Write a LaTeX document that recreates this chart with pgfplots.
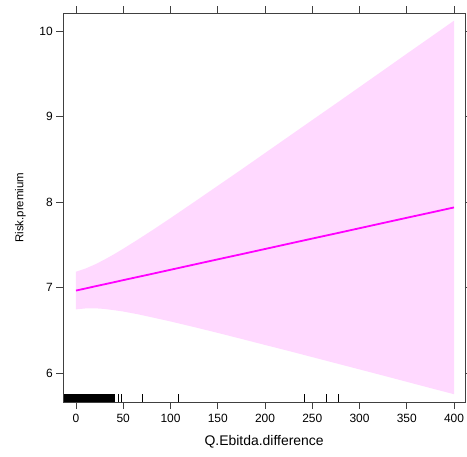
\documentclass[border=0pt]{standalone}
\usepackage{fontspec}
\setmainfont{Liberation Sans}
\usepackage{pgfplots}
\pgfplotsset{compat=1.18}
\usepgfplotslibrary{fillbetween}
\usepackage{pgfplotstable}
\definecolor{bandpink}{RGB}{255,217,255}
\definecolor{fitmag}{RGB}{255,0,255}
\definecolor{axgray}{RGB}{64,64,64}
\pgfplotstableread{
x upper lower fit
0   7.188 6.748 6.968
10  7.225 6.759 6.992
20  7.273 6.761 7.017
30  7.329 6.753 7.041
40  7.391 6.739 7.065
50  7.457 6.723 7.090
65  7.561 6.692 7.126
80  7.668 6.656 7.162
100 7.815 6.607 7.211
125 8.003 6.541 7.272
150 8.193 6.473 7.333
175 8.383 6.403 7.393
200 8.576 6.332 7.454
225 8.769 6.262 7.515
250 8.962 6.190 7.576
275 9.154 6.118 7.636
300 9.348 6.046 7.697
325 9.542 5.974 7.758
350 9.737 5.901 7.819
375 9.930 5.828 7.879
400 10.124 5.756 7.940
}\band
\begin{document}
\begin{tikzpicture}
\begin{axis}[
  scale only axis,
  width=401.7bp, height=388.7bp,
  xmin=-13.4, xmax=411.6, ymin=5.665, ymax=10.21,
  xtick={0,50,...,400}, ytick={6,7,8,9,10},
  tick align=outside, major tick length=7bp,
  xtick pos=both, ytick pos=both,
  xticklabel pos=bottom, yticklabel pos=left,
  axis line style={axgray, line width=0.8bp},
  every tick/.style={axgray, line width=0.8bp},
  tick label style={font=\fontsize{12}{14}\selectfont, black},
  xticklabel style={yshift=-2bp},
  /pgf/number format/assume math mode=true,
  xlabel={Q.Ebitda.difference},
  ylabel={Risk.premium},
  xlabel style={font=\fontsize{14}{16}\selectfont},
  ylabel style={font=\fontsize{11.5}{13}\selectfont},
  xlabel shift=6bp,
  ylabel shift=7bp,
  clip=true,
  axis on top,
]
\addplot[name path=up, draw=none, forget plot] table[x=x, y=upper] {\band};
\addplot[name path=lo, draw=none, forget plot] table[x=x, y=lower] {\band};
\addplot[bandpink, draw=none] fill between[of=up and lo];
\addplot[fitmag, line width=1.8bp] table[x=x, y=fit] {\band};
\addplot[black, line width=1bp, -, quiver={u=0, v=0.094}]
  coordinates {(-13,5.665) (-12,5.665) (-11,5.665) (-10,5.665) (-9,5.665) (-8,5.665) (-7,5.665) (-6,5.665) (-5,5.665) (-4,5.665) (-3,5.665) (-2,5.665) (-1,5.665) (0,5.665) (1,5.665) (2,5.665) (3,5.665) (4,5.665) (5,5.665) (6,5.665) (7,5.665) (8,5.665) (9,5.665) (10,5.665) (11,5.665) (12,5.665) (13,5.665) (14,5.665) (15,5.665) (16,5.665) (17,5.665) (18,5.665) (19,5.665) (20,5.665) (21,5.665) (22,5.665) (23,5.665) (24,5.665) (25,5.665) (26,5.665) (27,5.665) (28,5.665) (29,5.665) (30,5.665) (31,5.665) (32,5.665) (33,5.665) (34,5.665) (35,5.665) (36,5.665) (37,5.665) (38,5.665) (39,5.665) (40,5.665) (40.5,5.665) (44.6,5.665) (48.2,5.665) (70,5.665) (109,5.665) (242,5.665) (265.3,5.665) (277.3,5.665)};
\end{axis}
\pgfresetboundingbox
\path (current axis.south west) ++(-63.3bp,-55bp) rectangle ++(467bp,457bp);
\end{tikzpicture}
\end{document}
